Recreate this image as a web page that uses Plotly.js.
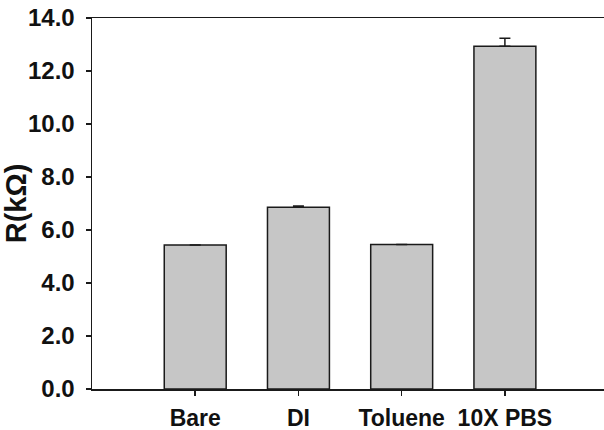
<!DOCTYPE html>
<html>
<head>
<meta charset="utf-8">
<script src="https://cdn.plot.ly/plotly-3.0.1.min.js"></script>
<style>html,body{margin:0;padding:0;background:#fff;}#chart{width:604px;height:430px;}</style>
</head>
<body>
<div id="chart"></div>
<script>
const categories = ["Bare", "DI", "Toluene", "10X PBS"];
const resistance = [5.43, 6.86, 5.45, 12.93];
const errorsUp = [null, 0.05, null, 0.31];
const errorsDown = [null, 0, null, 0];
const yTickVals = [0, 2, 4, 6, 8, 10, 12, 14];
const yTickText = ["0.0", "2.0", "4.0", "6.0", "8.0", "10.0", "12.0", "14.0"];

const font = "Liberation Sans, Arial, sans-serif";

Plotly.newPlot("chart", [{
  type: "bar",
  x: categories,
  y: resistance,
  marker: {color: "#c6c6c6", line: {color: "#1a1a1a", width: 1.5}},
  error_y: {type: "data", symmetric: false, array: errorsUp, arrayminus: errorsDown, visible: true, color: "#1a1a1a", thickness: 1.5, width: 5.5},
  hoverinfo: "none"
}], {
  width: 604, height: 430,
  margin: {l: 92, r: 0, t: 18, b: 41, pad: 0},
  paper_bgcolor: "#fff", plot_bgcolor: "#fff",
  bargap: 0.4,
  showlegend: false,
  xaxis: {
    type: "category",
    range: [-1, 3.96],
    showline: true, linecolor: "#1a1a1a", linewidth: 1.5, mirror: true,
    ticks: "outside", ticklen: 5, tickwidth: 1.5, tickcolor: "#1a1a1a",
    ticklabelstandoff: 3,
    showgrid: false, zeroline: false,
    tickfont: {family: font, size: 23, color: "#111", weight: "bold"}
  },
  yaxis: {
    range: [0, 14],
    tickvals: yTickVals, ticktext: yTickText,
    showline: true, linecolor: "#1a1a1a", linewidth: 1.5,
    ticks: "outside", ticklen: 5, tickwidth: 1.5, tickcolor: "#1a1a1a",
    ticklabelstandoff: 6,
    showgrid: false, zeroline: false,
    tickfont: {family: font, size: 24, color: "#111", weight: "bold"},
    title: {text: "R(kΩ)", font: {family: font, size: 29, color: "#111", weight: "bold"}, standoff: 1}
  }
}, {staticPlot: true, displayModeBar: false});
</script>
</body>
</html>
